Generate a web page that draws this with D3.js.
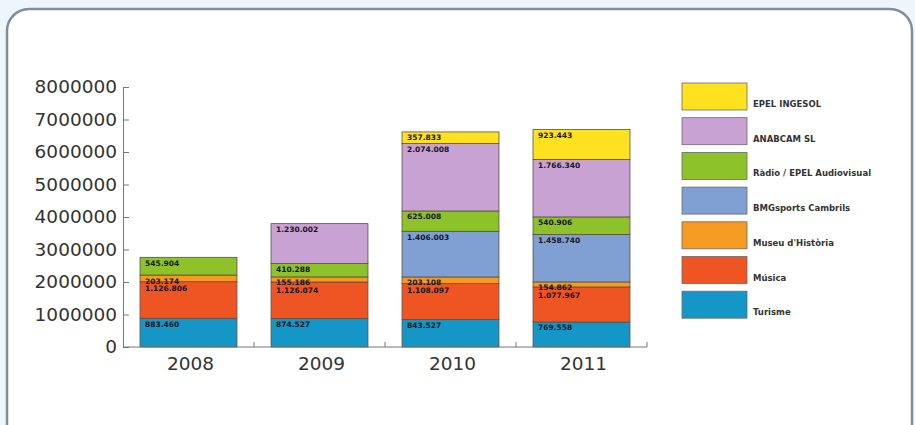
<!DOCTYPE html>
<html>
<head>
<meta charset="utf-8">
<script src="https://cdn.jsdelivr.net/npm/d3@7"></script>
<style>
  html, body { margin: 0; padding: 0; background: #eef6fb; }
  svg { display: block; }
</style>
</head>
<body>
<div id="chart"></div>
<script>
// categories and series
const years = ["2008", "2009", "2010", "2011"];
const seriesNames = [
  "Turisme",
  "Música",
  "Museu d'Història",
  "BMGsports Cambrils",
  "Ràdio / EPEL Audiovisual",
  "ANABCAM SL",
  "EPEL INGESOL"
];
const turisme = [883460, 874527, 843527, 769558];
const musica = [1126806, 1126074, 1108097, 1077967];
const museu = [203174, 155186, 203108, 154862];
const bmgsports = [0, 0, 1406003, 1458740];
const radio = [545904, 410288, 625008, 540906];
const anabcam = [0, 1230002, 2074008, 1766340];
const ingesol = [0, 0, 357833, 923443];
const yTicks = [0, 1000000, 2000000, 3000000, 4000000, 5000000, 6000000, 7000000, 8000000];
const colors = ["#1496c6", "#ef5423", "#f59b22", "#809fd3", "#8dc22a", "#c8a2d2", "#ffe21f"];

const width = 915;
const height = 425;

const svg = d3.select("#chart").append("svg")
  .attr("width", width)
  .attr("height", height);

// rounded frame
svg.append("rect")
  .attr("x", 7).attr("y", 9)
  .attr("width", 905).attr("height", 440)
  .attr("rx", 22)
  .attr("fill", "#ffffff")
  .attr("stroke", "#7f8e9a")
  .attr("stroke-width", 2.5);

const allSeries = [turisme, musica, museu, bmgsports, radio, anabcam, ingesol];
const table = years.map((yr, i) => {
  const row = { year: yr };
  seriesNames.forEach((name, k) => { row[name] = allSeries[k][i]; });
  return row;
});

const stacked = d3.stack().keys(seriesNames)(table);

const x = d3.scaleBand()
  .domain(years)
  .range([123, 647])
  .paddingInner(0.26)
  .paddingOuter(0.13);

const y = d3.scaleLinear()
  .domain([0, 8000000])
  .range([347, 87]);

const color = d3.scaleOrdinal().domain(seriesNames).range(colors);

const fmt = d3.formatLocale({ decimal: ",", thousands: ".", grouping: [3], currency: ["", ""] }).format(",d");

// label baselines: top of segment, pushed down when the label above is too close
const LABEL_GAP = 7.5;
years.forEach((yr, i) => {
  let prev = -Infinity;
  for (let k = stacked.length - 1; k >= 0; k--) {
    const s = stacked[k][i];
    if (s[1] - s[0] <= 0) continue;
    s.labelY = Math.max(y(s[1]) + 8.5, prev + LABEL_GAP);
    prev = s.labelY;
  }
});

// bars
const layers = svg.append("g")
  .selectAll("g")
  .data(stacked)
  .join("g")
  .attr("fill", (d) => color(d.key));

layers.selectAll("rect")
  .data((d) => d.filter((s) => s[1] - s[0] > 0))
  .join("rect")
  .attr("x", (d) => x(d.data.year))
  .attr("y", (d) => y(d[1]))
  .attr("width", x.bandwidth())
  .attr("height", (d) => y(d[0]) - y(d[1]))
  .attr("stroke", "#5a5046")
  .attr("stroke-width", 0.8);

// value labels at the top-left of each segment
layers.selectAll("text")
  .data((d) => d.filter((s) => s[1] - s[0] > 0))
  .join("text")
  .attr("x", (d) => x(d.data.year) + 5)
  .attr("y", (d) => d.labelY)
  .attr("font-family", "DejaVu Sans, sans-serif")
  .attr("font-size", 7.5)
  .attr("font-weight", "bold")
  .attr("fill", "#16161e")
  .text((d) => fmt(d[1] - d[0]));

// y axis
const yAxis = svg.append("g")
  .attr("transform", "translate(123,0)")
  .call(d3.axisLeft(y).tickValues(yTicks).tickFormat(d3.format("d"))
    .tickSizeInner(-6).tickSizeOuter(0).tickPadding(6));
yAxis.select(".domain").attr("stroke", "#777");
yAxis.selectAll(".tick line").attr("stroke", "#777");
yAxis.selectAll(".tick text")
  .attr("x", -6)
  .attr("text-anchor", "end")
  .attr("font-family", "DejaVu Sans, sans-serif")
  .attr("font-size", 18.5)
  .attr("fill", "#333");

// x axis with boundary ticks pointing up
const xAxisG = svg.append("g").attr("transform", "translate(0,347)");
xAxisG.append("line")
  .attr("x1", 123).attr("x2", 647)
  .attr("stroke", "#777");
const bounds = years.map((yr) => x(yr) + x.bandwidth() + x.step() * x.paddingInner() / 2);
bounds[bounds.length - 1] = x.range()[1];
xAxisG.selectAll(".bound")
  .data(bounds)
  .join("line")
  .attr("class", "bound")
  .attr("x1", (d) => d).attr("x2", (d) => d)
  .attr("y1", 0).attr("y2", -5)
  .attr("stroke", "#777");
xAxisG.selectAll(".year")
  .data(years)
  .join("text")
  .attr("class", "year")
  .attr("x", (d) => x(d) + x.bandwidth() / 2 + 2)
  .attr("y", 23)
  .attr("text-anchor", "middle")
  .attr("font-family", "DejaVu Sans, sans-serif")
  .attr("font-size", 18.5)
  .attr("fill", "#333")
  .text((d) => d);

// legend, top entry is the top of the stack
const legendNames = seriesNames.slice().reverse();
const legend = svg.append("g")
  .selectAll("g")
  .data(legendNames)
  .join("g")
  .attr("transform", (d, i) => `translate(682, ${83 + i * 34.7})`);

legend.append("rect")
  .attr("width", 65)
  .attr("height", 27)
  .attr("fill", (d) => color(d))
  .attr("stroke", "#6a6a6a")
  .attr("stroke-width", 0.8);

legend.append("text")
  .attr("x", 71)
  .attr("y", 24)
  .attr("font-family", "DejaVu Sans, sans-serif")
  .attr("font-size", 8.5)
  .attr("font-weight", "bold")
  .attr("fill", "#333")
  .text((d) => d);
</script>
</body>
</html>
